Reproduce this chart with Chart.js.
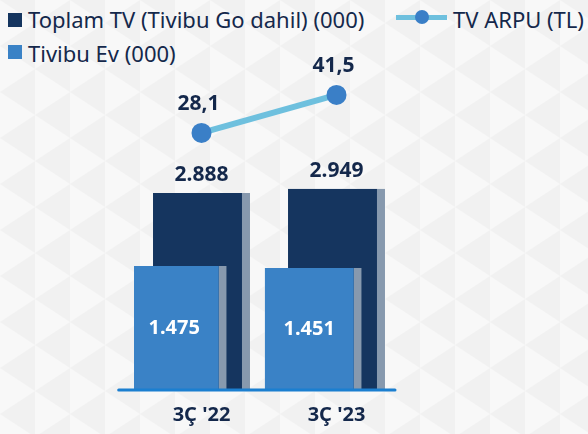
<!DOCTYPE html>
<html lang="tr">
<head>
<meta charset="UTF-8">
<title>Tivibu TV</title>
<script src="https://cdn.jsdelivr.net/npm/chart.js"></script>
<style>
  html, body { margin: 0; padding: 0; }
  body {
    width: 588px; height: 434px; overflow: hidden; position: relative;
    font-family: "Noto Sans", sans-serif; color: #14284b;
    background-color: #f1f1f1;
    background-image: url("data:image/svg+xml,%3Csvg xmlns='http://www.w3.org/2000/svg' width='70' height='46'%3E%3Cpath d='M0 0L0 46L35 23Z' fill='%23f8f8f8'/%3E%3Cpath d='M35 -23L35 23L70 0Z M35 23L35 69L70 46Z' fill='%23f8f8f8'/%3E%3C/svg%3E");
  }
  #wrap { position: absolute; left: 0; top: 0; width: 588px; height: 434px; }
  .leg { position: absolute; font-size: 22px; white-space: nowrap; line-height: 30px; }
  .sq { position: absolute; width: 14px; height: 14px; }
  .ln { position: absolute; left: 396px; top: 15px; width: 51px; height: 5px; background: #6ec0de; }
  .ln::after { content: ""; position: absolute; left: 19px; top: -5px; width: 14px; height: 14px; border-radius: 50%; background: #3a7fc7; }
</style>
</head>
<body>
<div class="sq" style="left:8px;top:13px;background:#15355f"></div>
<div class="leg" style="left:28px;top:4px">Toplam TV (Tivibu Go dahil) (000)</div>
<div class="ln"></div>
<div class="leg" style="left:453px;top:4px">TV ARPU (TL)</div>
<div class="sq" style="left:8px;top:45px;background:#3a82c6"></div>
<div class="leg" style="left:28px;top:38px">Tivibu Ev (000)</div>
<div id="wrap"><canvas id="c"></canvas></div>
<script>
const categories = ["3Ç '22", "3Ç '23"];
const toplamTV = [2888, 2949];
const tivibuEv = [1475, 1451];
const tvArpu = [28.1, 41.5];

const navy = '#15355f';
const lightBlue = '#3a82c6';
const shadow = '#8799ae';
const textColor = '#14284b';

function thousands(v) { return String(v).replace(/\B(?=(\d{3})+(?!\d))/g, '.'); }
function decimal(v) { return v.toFixed(1).replace('.', ','); }

const labelsPlugin = {
  id: 'labels',
  afterDatasetsDraw(chart) {
    const ctx = chart.ctx;
    const light = chart.getDatasetMeta(0);
    const dark = chart.getDatasetMeta(1);
    const line = chart.getDatasetMeta(2);
    // baseline
    const first = light.data[0], last = dark.data[dark.data.length - 1];
    ctx.save();
    ctx.strokeStyle = '#1b7fd0';
    ctx.lineWidth = 3;
    ctx.lineCap = 'round';
    ctx.beginPath();
    ctx.moveTo(first.x - first.width / 2 - 11, chart.chartArea.bottom + 1);
    ctx.lineTo(last.x + last.width / 2 + 10, chart.chartArea.bottom + 1);
    ctx.stroke();

    ctx.textAlign = 'center';
    ctx.textBaseline = 'middle';
    ctx.font = 'bold 21px "Noto Sans"';
    ctx.fillStyle = textColor;
    dark.data.forEach((b, i) => ctx.fillText(thousands(toplamTV[i]), b.x, b.y - 18));
    line.data.forEach((p, i) => ctx.fillText(decimal(tvArpu[i]), p.x - 3, p.y - 29));
    ctx.fillStyle = '#ffffff';
    ctx.font = 'bold 20px "Noto Sans"';
    light.data.forEach((b, i) => ctx.fillText(thousands(tivibuEv[i]), b.x - 4, (b.y + b.base) / 2 + 1));
    ctx.restore();
  }
};

const barOpts = {
  categoryPercentage: 0.518,
  barPercentage: 4.16,
  borderWidth: { top: 0, right: 8, bottom: 0, left: 0 },
  borderColor: shadow,
  borderSkipped: false
};

new Chart(document.getElementById('c'), {
  type: 'bar',
  data: {
    labels: categories,
    datasets: [
      Object.assign({ label: 'Tivibu Ev (000)', data: tivibuEv, backgroundColor: lightBlue, yAxisID: 'yLight', order: 1 }, barOpts),
      Object.assign({ label: 'Toplam TV (Tivibu Go dahil) (000)', data: toplamTV, backgroundColor: navy, yAxisID: 'yDark', order: 2 }, barOpts),
      {
        type: 'line', label: 'TV ARPU (TL)', data: tvArpu, yAxisID: 'yLine', order: 0,
        borderColor: '#6ec0de', borderWidth: 6, pointRadius: 10, pointBackgroundColor: '#3a7fc7',
        pointBorderWidth: 0, tension: 0
      },
      // empty slot so the navy bar sits on the category centre
      Object.assign({ label: '', data: [null, null], yAxisID: 'yDark', order: 3 }, barOpts)
    ]
  },
  options: {
    responsive: true,
    maintainAspectRatio: false,
    animation: false,
    layout: { padding: { left: 134, right: 184, top: 60, bottom: 1 } },
    plugins: { legend: { display: false }, tooltip: { enabled: false } },
    scales: {
      x: {
        grid: { display: false },
        border: { display: false },
        ticks: { color: textColor, font: { family: 'Noto Sans', size: 20, weight: 'bold' }, padding: 6 }
      },
      yDark: { display: false, min: 0, max: 4848 },
      yLight: { display: false, min: 0, max: 3945 },
      yLine: { display: false, min: -62.2, max: 53.8 }
    }
  },
  plugins: [labelsPlugin]
});
</script>
</body>
</html>
